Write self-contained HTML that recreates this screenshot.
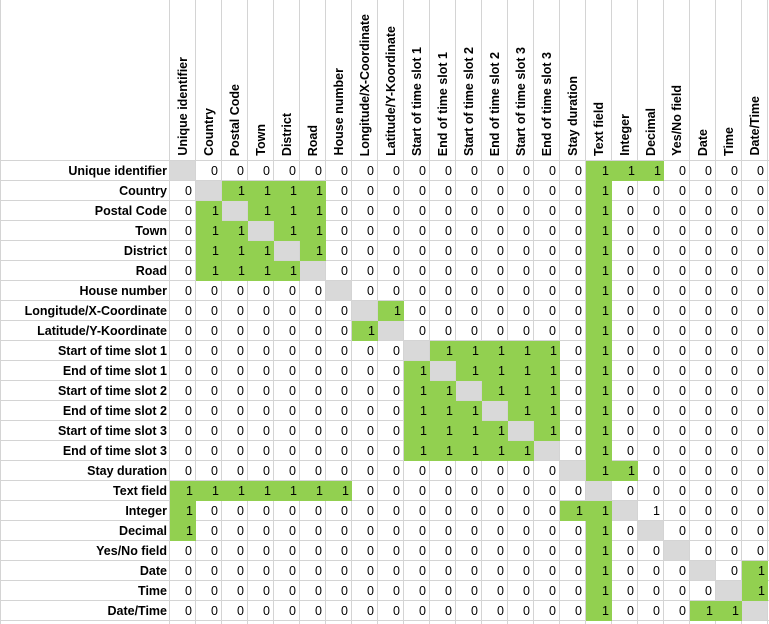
<!DOCTYPE html>
<html><head><meta charset="utf-8">
<style>
body{margin:0;width:769px;height:624px;overflow:hidden;background:#fff;font-family:"Liberation Sans",Arial,sans-serif;}
#grid{position:absolute;left:0;top:0;width:769px;height:624px;}
.c{position:absolute;box-sizing:border-box;font-size:12.5px;text-align:right;padding-right:3px;line-height:20px;height:20px;width:26px;}
.vl{position:absolute;top:0;width:1px;height:624px;background:#d4d4d4;}
.hl{position:absolute;left:0;height:1px;width:769px;background:#d4d4d4;}
.rl{position:absolute;left:0;width:167px;text-align:right;font-weight:bold;font-size:12.5px;line-height:20px;height:20px;}
.hd{position:absolute;bottom:0;width:26px;height:160px;}
.hd span{position:absolute;bottom:4px;left:6px;writing-mode:vertical-rl;transform:rotate(180deg);font-weight:bold;font-size:12.5px;white-space:nowrap;line-height:14px;}
</style></head>
<body>
<div id="grid"></div>
<script>
const labels=["Unique identifier","Country","Postal Code","Town","District","Road","House number","Longitude/X-Coordinate","Latitude/Y-Koordinate","Start of time slot 1","End of time slot 1","Start of time slot 2","End of time slot 2","Start of time slot 3","End of time slot 3","Stay duration","Text field","Integer","Decimal","Yes/No field","Date","Time","Date/Time"];
const onesByRow=[
[16,17,18],[2,3,4,5,16],[1,3,4,5,16],[1,2,4,5,16],[1,2,3,5,16],[1,2,3,4,16],[16],[8,16],[7,16],
[10,11,12,13,14,16],[9,11,12,13,14,16],[9,10,12,13,14,16],[9,10,11,13,14,16],[9,10,11,12,14,16],[9,10,11,12,13,16],
[16,17],[0,1,2,3,4,5,6],[0,15,16,18],[0,16],[16],[16,22],[16,22],[16,20,21]];
const unhighlighted=[[17,18]];
const X0=170,CW=26,Y0=161,RH=20;
const g=document.getElementById('grid');
function colX(j){return X0+CW*j;}
function rowY(i){return Y0+RH*i;}
// lines
for(let j=0;j<=labels.length;j++){
  const v=document.createElement('div');v.className='vl';v.style.left=(colX(j)-1)+'px';
  
  
  g.appendChild(v);
}
const v0=document.createElement('div');v0.className='vl';v0.style.left='0px';


g.appendChild(v0);
for(let i=0;i<=labels.length;i++){
  const h=document.createElement('div');h.className='hl';h.style.top=(rowY(i)-1)+'px';
  
  
  g.appendChild(h);
}
labels.forEach((lab,j)=>{
  const h=document.createElement('div');h.className='hd';h.style.left=colX(j)+'px';h.style.top='0px';h.style.height=(Y0-1)+'px';
  
  
  const s=document.createElement('span');s.textContent=lab;h.appendChild(s);g.appendChild(h);
});
labels.forEach((lab,i)=>{
  const r=document.createElement('div');r.className='rl';r.style.top=rowY(i)+'px';r.textContent=lab;
  
  
  g.appendChild(r);
  for(let j=0;j<labels.length;j++){
    const c=document.createElement('div');c.className='c';
    c.style.left=colX(j)+'px';c.style.top=rowY(i)+'px';c.style.width=(CW-1)+'px';c.style.height=(RH-1)+'px';
    
    
    if(i===j){c.style.background='#d9d9d9';}
    else{
      const val=onesByRow[i].includes(j)?1:0;
      c.textContent=val;
      const plain=unhighlighted.some(p=>p[0]===i&&p[1]===j);
      if(val===1&&!plain){c.style.background='#92d050';c.style.width=CW+'px';c.style.height=RH+'px';}
    }
    g.appendChild(c);
  }
});
</script>
</body></html>
